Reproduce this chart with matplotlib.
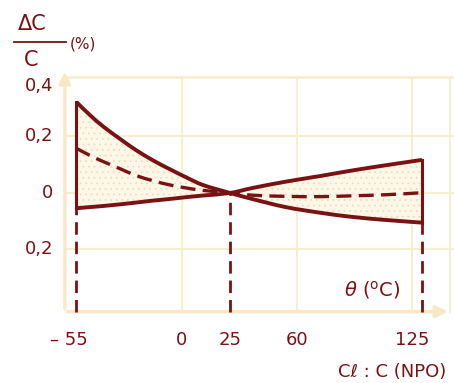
import matplotlib.pyplot as plt
from matplotlib.path import Path
from matplotlib.patches import PathPatch
import numpy as np

# données (température en °C, variation en %)
temp = [-55, -48, -41, -32, -24, -15, -6, 2, 11, 25, 37, 54, 72, 89, 107, 125]
curve_down = [0.322, 0.276, 0.235, 0.19, 0.152, 0.115, 0.083, 0.056, 0.028, 0.0,
              -0.022, -0.05, -0.07, -0.085, -0.096, -0.105]
curve_up = [-0.054, -0.05, -0.046, -0.04, -0.034, -0.027, -0.021, -0.015, -0.009, 0.0,
            0.018, 0.04, 0.06, 0.08, 0.099, 0.117]
curve_mid = [0.158, 0.133, 0.111, 0.085, 0.062, 0.043, 0.028, 0.018, 0.009, 0.0,
             -0.008, -0.012, -0.013, -0.01, -0.006, 0.001]

xticks = [-55, 0, 25, 60, 125]
xticklabels = ['– 55', '0', '25', '60', '125']
yticks = [0.4, 0.2, 0, -0.2]
yticklabels = ['0,4', '0,2', '0', '0,2']
hgrid = [0.2, 0, -0.2]
vgrid = [0, 60, 120]

red = '#7a1214'
pale = '#f8e9c6'
gridc = '#f6efcf'

plt.rcParams['font.family'] = ['DejaVu Sans']
plt.rcParams['hatch.linewidth'] = 0.6


def smooth_path(xs, ys):
    """Courbe de Bézier (Catmull-Rom) passant par les points lus"""
    p = np.column_stack([xs, ys]).astype(float)
    verts = [p[0]]
    codes = [Path.MOVETO]
    n = len(p)
    for i in range(n - 1):
        p0 = p[max(i - 1, 0)]
        p3 = p[min(i + 2, n - 1)]
        c1 = p[i] + (p[i + 1] - p0) / 6
        c2 = p[i + 1] - (p3 - p[i]) / 6
        verts += [c1, c2, p[i + 1]]
        codes += [Path.CURVE4] * 3
    return verts, codes


fig = plt.figure(figsize=(4.54, 3.83), dpi=100)
ax = fig.add_axes([0, 0, 1, 1])
ax.set_xlim(-94.8, 141.7)
ax.set_ylim(-0.6726, 0.683)
ax.axis('off')

x_axis_y = -0.42
y_axis_x = -61
top_y = 0.41

# quadrillage
for g in hgrid:
    ax.plot([y_axis_x, 141.7], [g, g], color=gridc, lw=1.5, zorder=1)
ax.plot([y_axis_x, 141.7], [top_y, top_y], color=gridc, lw=2, zorder=1)
for g in vgrid:
    ax.plot([g, g], [x_axis_y, top_y], color=gridc, lw=1.5, zorder=1)
ax.plot([139.5, 139.5], [x_axis_y, top_y], color=gridc, lw=1.5, zorder=1)

# axes avec flèches
for tip in [(y_axis_x, top_y + 0.03), (140, x_axis_y)]:
    ax.annotate('', xy=tip, xytext=(y_axis_x, x_axis_y),
                arrowprops=dict(arrowstyle='-|>,head_width=0.35,head_length=0.7',
                                color=pale, lw=2.5), zorder=2)

# zone pointillée entre les deux courbes
vd, cd = smooth_path(temp, curve_down)
vu, cu = smooth_path(temp[::-1], curve_up[::-1])
fill_codes = cd + [Path.LINETO] + cu[1:] + [Path.CLOSEPOLY]
fill_verts = vd + vu + [vd[0]]
ax.add_patch(PathPatch(Path(fill_verts, fill_codes), facecolor='#fdf7e8',
                       edgecolor='#efdcc2', hatch='...', linewidth=0, zorder=3))

for ys, style in [(curve_down, dict(lw=2.8)), (curve_up, dict(lw=2.8)),
                  (curve_mid, dict(lw=2.4, linestyle=(0, (4.5, 2.2))))]:
    v, c = smooth_path(temp, ys)
    ax.add_patch(PathPatch(Path(v, c), facecolor='none', edgecolor=red,
                           capstyle='butt', zorder=5, **style))

# verticales aux bornes
ax.plot([temp[0], temp[0]], [curve_up[0], curve_down[0]], color=red, lw=2.2, zorder=5)
ax.plot([temp[-1], temp[-1]], [curve_down[-1], curve_up[-1]], color=red, lw=2.2, zorder=5)
for t, v in [(temp[0], curve_up[0]), (25, 0.0), (temp[-1], curve_down[-1])]:
    ax.plot([t, t], [x_axis_y, v], color=red, lw=2, dashes=(4.5, 2.5), zorder=4)

# étiquettes
for v, lab in zip(yticks, yticklabels):
    ax.text(-67, v - 0.022 if v == 0.4 else v, lab, ha='right', va='center',
            fontsize=13, color=red)
for t, lab in zip(xticks, xticklabels):
    ax.text(t - 4 if t == -55 else t - (5 if t == 125 else 0), -0.52, lab,
            ha='center', va='center', fontsize=13, color=red)

fig.text(32 / 454, 1 - 24 / 383, 'ΔC', ha='center', va='center', fontsize=15, color=red)
fig.add_artist(plt.Line2D([14 / 454, 66 / 454], [1 - 42 / 383, 1 - 42 / 383],
                          color=red, lw=1.3))
fig.text(31 / 454, 1 - 60 / 383, 'C', ha='center', va='center', fontsize=15, color=red)
fig.text(83 / 454, 1 - 44 / 383, '(%)', ha='center', va='center', fontsize=11, color=red)
fig.text(372 / 454, 1 - 290 / 383, r'$\theta$ ($^{\rm o}$C)', ha='center', va='center',
         fontsize=14, color=red)
fig.text(392 / 454, 1 - 372 / 383, 'Cℓ : C (NPO)', ha='center', va='center',
         fontsize=13, color=red)

fig.savefig('out.png', dpi=100, facecolor='white')
